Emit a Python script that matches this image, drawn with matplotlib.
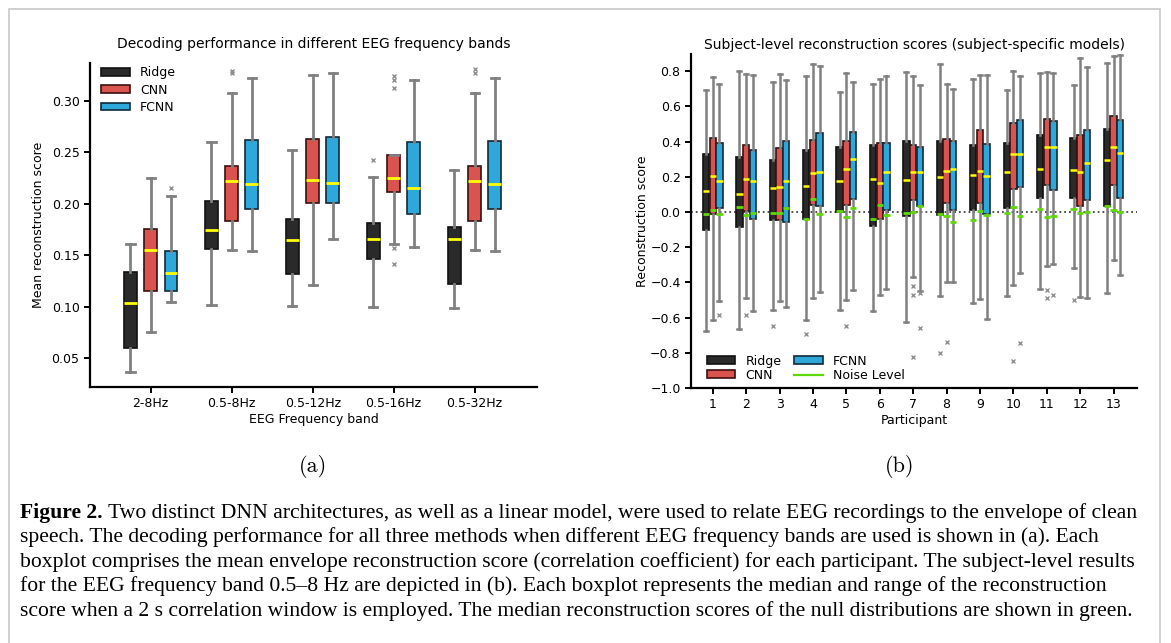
import matplotlib
matplotlib.use('Agg')
import matplotlib.pyplot as plt
from matplotlib.patches import Patch, Rectangle
from matplotlib.lines import Line2D

###############################################################################
# Data (a): mean reconstruction score per EEG frequency band
bands = ['2-8Hz', '0.5-8Hz', '0.5-12Hz', '0.5-16Hz', '0.5-32Hz']

ridge_lo = [0.037, 0.102, 0.101, 0.100, 0.099]
ridge_q1 = [0.060, 0.156, 0.132, 0.146, 0.122]
ridge_med = [0.104, 0.175, 0.165, 0.166, 0.166]
ridge_q3 = [0.134, 0.203, 0.185, 0.181, 0.178]
ridge_hi = [0.161, 0.260, 0.252, 0.226, 0.233]
ridge_fl = [[], [], [], [0.243], []]

cnn_lo = [0.075, 0.155, 0.121, 0.161, 0.155]
cnn_q1 = [0.115, 0.183, 0.201, 0.212, 0.183]
cnn_med = [0.155, 0.222, 0.223, 0.225, 0.222]
cnn_q3 = [0.176, 0.237, 0.263, 0.248, 0.237]
cnn_hi = [0.225, 0.308, 0.325, 0.248, 0.308]
cnn_fl = [[], [0.329, 0.327], [], [0.324, 0.320, 0.313, 0.157, 0.142],
          [0.331, 0.327]]

fcnn_lo = [0.105, 0.154, 0.166, 0.158, 0.154]
fcnn_q1 = [0.115, 0.195, 0.201, 0.190, 0.195]
fcnn_med = [0.133, 0.219, 0.220, 0.215, 0.219]
fcnn_q3 = [0.154, 0.262, 0.265, 0.260, 0.261]
fcnn_hi = [0.208, 0.322, 0.327, 0.320, 0.322]
fcnn_fl = [[0.215], [], [], [], []]

###############################################################################
# Data (b): subject-level scores, 0.5-8 Hz
participants = list(range(1, 14))

s_ridge_lo = [-0.674, -0.663, -0.555, -0.612, -0.555, -0.561, -0.623, -0.475,
              -0.515, -0.475, -0.436, -0.316, -0.458]
s_ridge_q1 = [-0.102, -0.083, -0.047, -0.042, -0.002, -0.078, -0.021, -0.015,
              0.013, 0.025, 0.081, 0.080, 0.036]
s_ridge_med = [0.121, 0.102, 0.138, 0.150, 0.178, 0.189, 0.184, 0.201, 0.212,
               0.229, 0.246, 0.240, 0.297]
s_ridge_q3 = [0.328, 0.314, 0.297, 0.354, 0.369, 0.381, 0.402, 0.402, 0.379,
              0.392, 0.438, 0.419, 0.470]
s_ridge_hi = [0.695, 0.803, 0.739, 0.775, 0.682, 0.729, 0.797, 0.839, 0.758,
              0.695, 0.792, 0.723, 0.848]
s_ridge_noise = [-0.010, 0.030, -0.004, -0.038, 0.008, -0.038, -0.004, -0.010,
                 -0.045, -0.004, 0.019, 0.019, 0.036]
s_ridge_fl = [[], [], [-0.648], [-0.695], [], [], [], [-0.800], [], [], [],
              [-0.502], []]

s_cnn_lo = [-0.612, -0.487, -0.504, -0.487, -0.498, -0.470, -0.369, -0.400,
            -0.492, -0.413, -0.305, -0.481, -0.271]
s_cnn_q1 = [-0.011, 0.008, -0.044, 0.042, 0.038, -0.038, 0.066, 0.053, 0.049,
            0.133, 0.155, 0.036, 0.151]
s_cnn_med = [0.206, 0.189, 0.144, 0.223, 0.246, 0.167, 0.229, 0.235, 0.235,
             0.330, 0.371, 0.229, 0.371]
s_cnn_q3 = [0.419, 0.379, 0.364, 0.411, 0.402, 0.394, 0.379, 0.413, 0.464,
            0.504, 0.527, 0.439, 0.544]
s_cnn_hi = [0.769, 0.784, 0.786, 0.843, 0.792, 0.758, 0.775, 0.729, 0.780,
            0.803, 0.797, 0.877, 0.888]
s_cnn_noise = [0.011, -0.015, -0.004, 0.076, -0.027, 0.042, 0.002, -0.021,
               0.008, 0.030, -0.027, -0.004, 0.013]
s_cnn_fl = [[], [-0.583], [], [], [-0.648], [], [-0.422, -0.473, -0.824],
            [-0.739], [], [-0.849], [-0.445, -0.487], [], []]

s_fcnn_lo = [-0.504, -0.561, -0.540, -0.453, -0.441, -0.436, -0.447, -0.396,
             -0.606, -0.345, -0.294, -0.487, -0.356]
s_fcnn_q1 = [0.025, -0.040, -0.057, 0.032, 0.072, 0.010, 0.036, 0.011, -0.013,
             0.142, 0.127, 0.070, 0.081]
s_fcnn_med = [0.178, 0.178, 0.178, 0.227, 0.303, 0.229, 0.229, 0.246, 0.206,
              0.330, 0.371, 0.280, 0.337]
s_fcnn_q3 = [0.392, 0.352, 0.403, 0.449, 0.453, 0.394, 0.369, 0.405, 0.388,
             0.521, 0.515, 0.464, 0.521]
s_fcnn_hi = [0.729, 0.780, 0.748, 0.831, 0.739, 0.775, 0.722, 0.701, 0.780,
             0.775, 0.792, 0.826, 0.894]
s_fcnn_noise = [-0.010, -0.004, 0.025, -0.010, 0.025, -0.015, 0.036, -0.057,
                -0.015, -0.021, -0.021, 0.002, 0.002]
s_fcnn_fl = [[-0.583], [], [], [], [], [], [-0.460, -0.657], [], [], [-0.744],
             [-0.472], [], []]

caption_bold = 'Figure 2.'
caption_lines = [
    ' Two distinct DNN architectures, as well as a linear model, were used to '
    'relate EEG recordings to the envelope of clean',
    'speech. The decoding performance for all three methods when different EEG '
    'frequency bands are used is shown in (a). Each',
    'boxplot comprises the mean envelope reconstruction score (correlation '
    'coefficient) for each participant. The subject-level results',
    'for the EEG frequency band 0.5\u20138 Hz are depicted in (b). Each boxplot '
    'represents the median and range of the reconstruction',
    'score when a 2 s correlation window is employed. The median reconstruction '
    'scores of the null distributions are shown in green.',
]

###############################################################################
# Style
names = ['Ridge', 'CNN', 'FCNN']
face = ['#2a2a2a', '#d9534f', '#2ea7da']
edge = ['#111111', '#3a1010', '#0f2a3a']
whisk_col = '#808080'
med_col = '#ffff00'
noise_col = '#5fd80a'

plt.rcParams['font.family'] = 'DejaVu Sans'
plt.rcParams['font.size'] = 9


def make_stats(lo, q1, med, q3, hi, fl):
    return [dict(whislo=a, q1=b, med=c, q3=d, whishi=e, fliers=f)
            for a, b, c, d, e, f in zip(lo, q1, med, q3, hi, fl)]


def draw_boxes(ax, stats, positions, width, fc, ec, capw, lw):
    ax.bxp(stats, positions=positions, widths=width, patch_artist=True,
           showfliers=True, manage_ticks=False, capwidths=capw,
           boxprops=dict(facecolor=fc, edgecolor=ec, linewidth=1.2),
           whiskerprops=dict(color=whisk_col, linewidth=lw),
           capprops=dict(color=whisk_col, linewidth=lw),
           medianprops=dict(color=med_col, linewidth=lw),
           flierprops=dict(marker='x', markersize=3, markeredgewidth=1,
                           markeredgecolor='#909090'))


def style_axes(ax):
    for side in ('top', 'right'):
        ax.spines[side].set_visible(False)
    for side in ('left', 'bottom'):
        ax.spines[side].set_linewidth(1.6)
    ax.tick_params(direction='out', length=4, width=1.4, labelsize=9)


fig = plt.figure(figsize=(11.71, 6.43), dpi=100)

###############################################################################
# Panel (a)
ax_a = fig.add_axes([90 / 1171, 1 - 387 / 643, 447 / 1171, 324 / 643])
xs = list(range(len(bands)))
panel_a = [
    make_stats(ridge_lo, ridge_q1, ridge_med, ridge_q3, ridge_hi, ridge_fl),
    make_stats(cnn_lo, cnn_q1, cnn_med, cnn_q3, cnn_hi, cnn_fl),
    make_stats(fcnn_lo, fcnn_q1, fcnn_med, fcnn_q3, fcnn_hi, fcnn_fl),
]
for k, stats in enumerate(panel_a):
    pos = [x + (k - 1) * 0.25 for x in xs]
    draw_boxes(ax_a, stats, pos, 0.16, face[k], edge[k], 0.1, 2.0)

ax_a.set_xticks(xs)
ax_a.set_xticklabels(bands)
ax_a.set_xlim(-0.75, 4.77)
ax_a.set_ylim(0.022, 0.337)
ax_a.set_yticks([0.05, 0.10, 0.15, 0.20, 0.25, 0.30])
ax_a.set_title('Decoding performance in different EEG frequency bands',
               fontsize=10, pad=10.5)
ax_a.set_xlabel('EEG Frequency band', fontsize=9, labelpad=2)
ax_a.set_ylabel('Mean reconstruction score', fontsize=9, labelpad=5)
style_axes(ax_a)
handles = [Patch(facecolor=face[k], edgecolor=edge[k], linewidth=1.2,
                 label=names[k]) for k in range(3)]
ax_a.legend(handles=handles, loc='upper left', frameon=False, fontsize=9,
            handlelength=2.3, handleheight=0.6, labelspacing=0.35,
            bbox_to_anchor=(0.0, 1.025))

###############################################################################
# Panel (b)
ax_b = fig.add_axes([691 / 1171, 1 - 388 / 643, 446 / 1171, 334.4 / 643])
ax_b.axhline(0, color='#444444', linestyle=':', linewidth=1.3, zorder=0.5)
panel_b = [
    (make_stats(s_ridge_lo, s_ridge_q1, s_ridge_med, s_ridge_q3, s_ridge_hi,
                s_ridge_fl), s_ridge_noise),
    (make_stats(s_cnn_lo, s_cnn_q1, s_cnn_med, s_cnn_q3, s_cnn_hi,
                s_cnn_fl), s_cnn_noise),
    (make_stats(s_fcnn_lo, s_fcnn_q1, s_fcnn_med, s_fcnn_q3, s_fcnn_hi,
                s_fcnn_fl), s_fcnn_noise),
]
bw = 0.19
for k, (stats, noise) in enumerate(panel_b):
    pos = [p + (k - 1) * 0.2 for p in participants]
    draw_boxes(ax_b, stats, pos, bw, face[k], edge[k], 0.12, 1.8)
    ax_b.hlines(noise, [p - bw / 2 for p in pos], [p + bw / 2 for p in pos],
                color=noise_col, linewidth=2, zorder=4)

ax_b.set_xticks(participants)
ax_b.set_xlim(0.35, 13.7)
ax_b.set_ylim(-1.0, 0.9)
ax_b.set_yticks([-1.0, -0.8, -0.6, -0.4, -0.2, 0.0, 0.2, 0.4, 0.6, 0.8])
ax_b.set_title('Subject-level reconstruction scores (subject-specific models)',
               fontsize=10, pad=3.5)
ax_b.set_xlabel('Participant', fontsize=9, labelpad=2)
ax_b.set_ylabel('Reconstruction score', fontsize=9, labelpad=1)
style_axes(ax_b)
handles_b = handles[:2] + [handles[2],
                           Line2D([], [], color=noise_col, linewidth=1.6,
                                  label='Noise Level')]
ax_b.legend(handles=handles_b, loc='lower left', ncol=2, frameon=False,
            fontsize=9, handlelength=2.3, handleheight=0.6,
            labelspacing=0.1, columnspacing=1.0,
            bbox_to_anchor=(0.01, -0.015))

###############################################################################
# Sub-labels, caption and frame
fig.text(313 / 1171, 1 - 467 / 643, '(a)', family='cmr10', fontsize=16,
         ha='center', va='center')
fig.text(900 / 1171, 1 - 467 / 643, '(b)', family='cmr10', fontsize=16,
         ha='center', va='center')

cap_font = 'Liberation Serif'
cap_size = 15.6
renderer = fig.canvas.get_renderer()
x0 = 20 / 1171
line_y = [513, 537.5, 562, 586.5, 611]
t = fig.text(x0, 1 - line_y[0] / 643, caption_bold, family=cap_font,
             fontsize=cap_size, fontweight='bold', va='center')
bb = t.get_window_extent(renderer)
fig.text(bb.x1 / 1171, 1 - line_y[0] / 643, caption_lines[0], family=cap_font,
         fontsize=cap_size, va='center')
for y, line in zip(line_y[1:], caption_lines[1:]):
    fig.text(x0, 1 - y / 643, line, family=cap_font, fontsize=cap_size,
             va='center')

fig.patches.append(Rectangle((9 / 1171, -0.05), 1151 / 1171, 1.05 - 9 / 643,
                             transform=fig.transFigure, fill=False,
                             edgecolor='#c8c8c8', linewidth=1.2))

fig.savefig('out.png', dpi=100)
